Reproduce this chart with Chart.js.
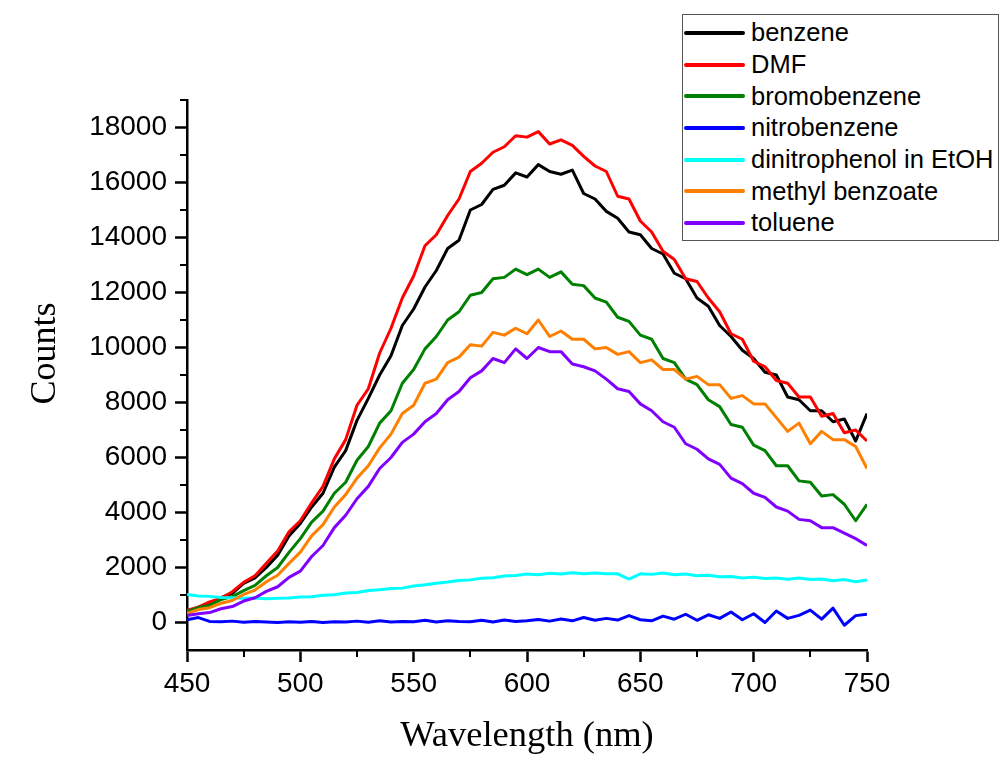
<!DOCTYPE html>
<html>
<head>
<meta charset="utf-8">
<script src="https://cdn.jsdelivr.net/npm/chart.js@4.4.1/dist/chart.umd.min.js"></script>
<style>
  html, body { margin: 0; padding: 0; background: #fff; }
  #wrap { position: relative; width: 1000px; height: 769px; }
  #legend {
    position: absolute; left: 682px; top: 14px; width: 317px; height: 227px;
    box-sizing: border-box; border: 1.5px solid #555; background: #fff; padding-top: 2px;
    font-family: "Liberation Sans", Arial, sans-serif; font-size: 25.5px; color: #000;
  }
  .row { height: 31.7px; display: flex; align-items: center; white-space: nowrap; }
  .swatch { width: 61px; height: 4px; margin-left: 1px; margin-right: 6px; border-radius: 2px; }
</style>
</head>
<body>
<div id="wrap">
  <canvas id="chart" width="1000" height="769"></canvas>
  <div id="legend"></div>
</div>
<script>
// wavelength grid (nm)
const wavelengths = [450, 455, 460, 465, 470, 475, 480, 485, 490, 495,
  500, 505, 510, 515, 520, 525, 530, 535, 540, 545,
  550, 555, 560, 565, 570, 575, 580, 585, 590, 595,
  600, 605, 610, 615, 620, 625, 630, 635, 640, 645,
  650, 655, 660, 665, 670, 675, 680, 685, 690, 695,
  700, 705, 710, 715, 720, 725, 730, 735, 740, 745, 750];

const benzene = [380, 560, 680, 900, 1060, 1420, 1620, 2000, 2450, 3150,
  3600, 4200, 4700, 5650, 6250, 7350, 8150, 9000, 9700, 10800,
  11400, 12200, 12800, 13600, 13900, 15000, 15200, 15750, 15900, 16350,
  16200, 16650, 16400, 16300, 16450, 15600, 15400, 14950, 14700, 14200,
  14100, 13600, 13400, 12700, 12500, 11800, 11500, 10800, 10400, 9900,
  9600, 9100, 9000, 8200, 8100, 7700, 7700, 7300, 7400, 6600, 7600];

const dmf = [440, 560, 750, 880, 1120, 1460, 1700, 2150, 2600, 3300,
  3700, 4350, 4950, 5950, 6650, 7900, 8500, 9800, 10700, 11800,
  12600, 13700, 14100, 14800, 15400, 16400, 16700, 17100, 17300, 17700,
  17650, 17850, 17400, 17550, 17350, 16950, 16600, 16400, 15500, 15400,
  14600, 14200, 13500, 13200, 12500, 12400, 11800, 11300, 10500, 10300,
  9500, 9300, 8800, 8700, 8200, 8200, 7500, 7600, 6900, 7000, 6600];

const bromobenzene = [400, 540, 630, 830, 940, 1160, 1350, 1700, 2000, 2550,
  3050, 3650, 4050, 4700, 5100, 5900, 6400, 7250, 7700, 8700,
  9200, 9950, 10400, 11000, 11300, 11900, 12000, 12500, 12550, 12850,
  12650, 12850, 12550, 12750, 12300, 12250, 11800, 11650, 11100, 10950,
  10450, 10300, 9600, 9450, 8850, 8650, 8100, 7850, 7200, 7100,
  6450, 6250, 5700, 5700, 5150, 5100, 4600, 4650, 4300, 3700, 4300];

const nitrobenzene = [100, 180, 40, 30, 50, 10, 40, 20, 0, 30,
  10, 40, 0, 30, 20, 50, 10, 60, 20, 40,
  30, 80, 20, 60, 40, 30, 80, 20, 90, 40,
  60, 110, 50, 130, 60, 180, 80, 150, 90, 250,
  100, 60, 230, 120, 300, 80, 280, 150, 380, 100,
  320, 0, 420, 150, 260, 450, 120, 520, -100, 250, 300];

const dinitrophenol = [1020, 960, 950, 910, 900, 880, 890, 860, 880, 890,
  930, 940, 990, 1010, 1070, 1090, 1160, 1190, 1240, 1250,
  1330, 1370, 1430, 1470, 1530, 1550, 1610, 1630, 1690, 1710,
  1760, 1740, 1790, 1760, 1810, 1770, 1800, 1770, 1770, 1580,
  1770, 1750, 1800, 1740, 1760, 1700, 1720, 1660, 1670, 1620,
  1650, 1600, 1620, 1570, 1620, 1560, 1580, 1520, 1560, 1480, 1550];

const methylBenzoate = [330, 470, 540, 700, 800, 1020, 1180, 1480, 1720, 2150,
  2560, 3150, 3560, 4200, 4650, 5250, 5700, 6350, 6850, 7600,
  7900, 8700, 8850, 9450, 9650, 10100, 10050, 10550, 10450, 10700,
  10500, 11000, 10400, 10600, 10300, 10300, 9950, 10000, 9750, 9850,
  9450, 9550, 9200, 9200, 8850, 8950, 8650, 8650, 8150, 8250,
  7950, 7950, 7450, 6950, 7250, 6500, 6950, 6650, 6650, 6400, 5600];

const toluene = [250, 320, 360, 500, 580, 780, 900, 1130, 1300, 1640,
  1870, 2400, 2800, 3450, 3900, 4500, 4950, 5600, 6000, 6550,
  6850, 7300, 7600, 8100, 8400, 8900, 9150, 9600, 9450, 9950,
  9600, 10000, 9850, 9850, 9400, 9300, 9150, 8850, 8500, 8400,
  7950, 7700, 7300, 7100, 6500, 6300, 5950, 5750, 5250, 5050,
  4700, 4550, 4200, 4050, 3750, 3700, 3450, 3450, 3250, 3050, 2800];

const seriesNames = ['benzene', 'DMF', 'bromobenzene', 'nitrobenzene',
  'dinitrophenol in EtOH', 'methyl benzoate', 'toluene'];
const seriesValues = [benzene, dmf, bromobenzene, nitrobenzene,
  dinitrophenol, methylBenzoate, toluene];
const seriesColors = ['#000000', '#ff0000', '#008000', '#0000ff',
  '#00ffff', '#ff8000', '#8000ff'];

const xTicksMajor = 50, xTicksMinor = 25;
const yTicksMajor = 2000, yTicksMinor = 1000;

const sansFont = '"Liberation Sans", Arial, sans-serif';
const serifFont = '"Liberation Serif", "Times New Roman", serif';

// short minor ticks between the major ones (Chart.js has one tick length per axis)
const minorTicks = {
    id: 'minorTicks',
    afterDraw(chart) {
        const { ctx, chartArea } = chart;
        const x = chart.scales.x, y = chart.scales.y;
        ctx.save();
        ctx.strokeStyle = '#000';
        ctx.lineWidth = 2;
        ctx.beginPath();
        for (let v = x.min + xTicksMinor; v < x.max; v += xTicksMajor) {
            const px = Math.round(x.getPixelForValue(v));
            ctx.moveTo(px, chartArea.bottom);
            ctx.lineTo(px, chartArea.bottom + 7);
        }
        for (let v = y.min + 2 * yTicksMinor; v <= y.max; v += yTicksMajor) {
            const py = Math.round(y.getPixelForValue(v));
            ctx.moveTo(chartArea.left, py);
            ctx.lineTo(chartArea.left - 7, py);
        }
        ctx.stroke();
        ctx.restore();
    }
};

const isMajorY = v => v % yTicksMajor === 0 && v >= 0 && v <= 18000;

const datasets = seriesNames.map((name, i) => ({
    label: name,
    data: wavelengths.map((w, j) => ({ x: w, y: seriesValues[i][j] })),
    borderColor: seriesColors[i],
    backgroundColor: seriesColors[i],
    borderWidth: 3,
    pointRadius: 0,
    tension: 0,
    borderJoinStyle: 'round',
    order: -i
}));

const chart = new Chart(document.getElementById('chart'), {
    type: 'line',
    data: { datasets },
    options: {
        responsive: false,
        animation: false,
        layout: { padding: { top: 100, right: 133, left: 0, bottom: 0 } },
        plugins: { legend: { display: false }, tooltip: { enabled: false } },
        scales: {
            x: {
                type: 'linear',
                min: 450,
                max: 750,
                border: { color: '#000', width: 2.5 },
                grid: { drawOnChartArea: false, tickLength: 12, tickWidth: 2.5, tickColor: '#000' },
                ticks: {
                    stepSize: xTicksMajor, autoSkip: false, maxRotation: 0, padding: 5,
                    color: '#000', font: { family: sansFont, size: 28 }
                },
                title: {
                    display: true, text: 'Wavelength (nm)', color: '#000',
                    font: { family: serifFont, size: 36.5 }, padding: { top: 0, bottom: 11 }
                },
                afterFit: s => { s.height = 119; }
            },
            y: {
                type: 'linear',
                min: -1000,
                max: 19000,
                border: { color: '#000', width: 2.5 },
                grid: {
                    drawOnChartArea: false, tickLength: 12, tickWidth: 2.5,
                    tickColor: c => (c.tick && isMajorY(c.tick.value)) ? '#000' : 'rgba(0,0,0,0)'
                },
                ticks: {
                    stepSize: yTicksMinor, autoSkip: false, padding: 8,
                    color: '#000', font: { family: sansFont, size: 28 },
                    callback: v => isMajorY(v) ? String(v) : ''
                },
                title: {
                    display: true, text: '\u2002\u2002\u2009Counts', color: '#000',
                    font: { family: serifFont, size: 36 }, padding: { top: 24, bottom: 0 }
                },
                afterFit: s => { s.width = 187; }
            }
        }
    },
    plugins: [minorTicks]
});

// legend box as html, built from the chart's datasets
const legendEl = document.getElementById('legend');
chart.data.datasets.forEach(ds => {
    const row = document.createElement('div');
    row.className = 'row';
    const sw = document.createElement('span');
    sw.className = 'swatch';
    sw.style.background = ds.borderColor;
    const label = document.createElement('span');
    label.textContent = ds.label;
    row.appendChild(sw);
    row.appendChild(label);
    legendEl.appendChild(row);
});
</script>
</body>
</html>
